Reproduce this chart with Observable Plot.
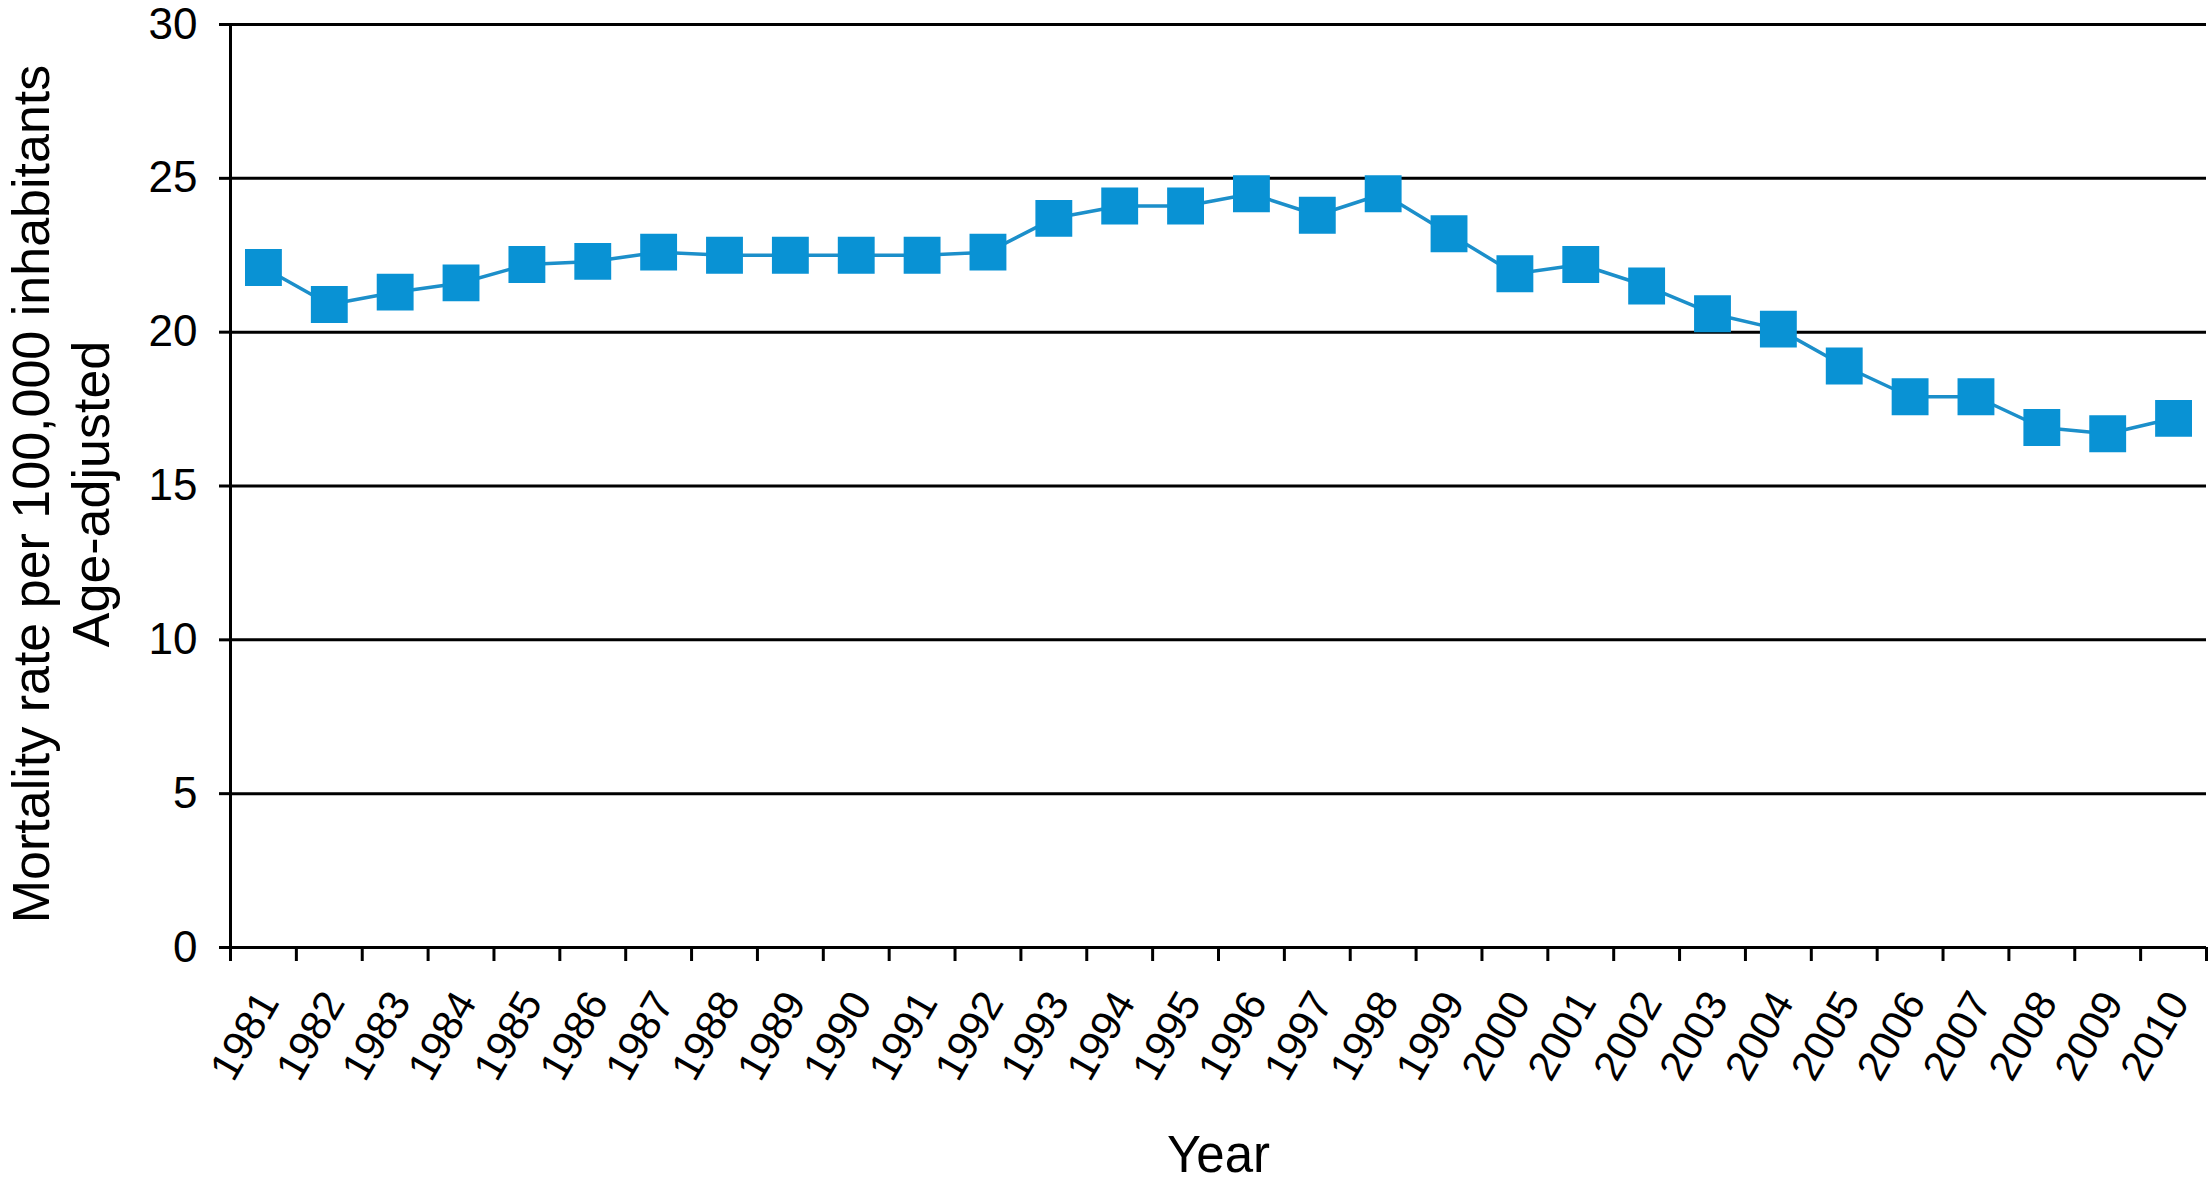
<!DOCTYPE html>
<html>
<head>
<meta charset="utf-8">
<script src="https://cdn.jsdelivr.net/npm/d3@7"></script>
<script src="https://cdn.jsdelivr.net/npm/@observablehq/plot@0.6"></script>
<style>
  html, body { margin: 0; padding: 0; background: #ffffff; }
  #chart svg { display: block; }
</style>
</head>
<body>
<div id="chart"></div>
<script>
const years = [1981, 1982, 1983, 1984, 1985, 1986, 1987, 1988, 1989, 1990,
               1991, 1992, 1993, 1994, 1995, 1996, 1997, 1998, 1999, 2000,
               2001, 2002, 2003, 2004, 2005, 2006, 2007, 2008, 2009, 2010];
const rates = [22.1, 20.9, 21.3, 21.6, 22.2, 22.3, 22.6, 22.5, 22.5, 22.5,
               22.5, 22.6, 23.7, 24.1, 24.1, 24.5, 23.8, 24.5, 23.2, 21.9,
               22.2, 21.5, 20.6, 20.1, 18.9, 17.9, 17.9, 16.9, 16.7, 17.2];
const yTicks = [0, 5, 10, 15, 20, 25, 30];
const xTitle = "Year";
const yTitleLines = ["Mortality rate per 100,000 inhabitants", "Age-adjusted"];

const data = years.map((year, i) => ({year, rate: rates[i]}));
// band edges between consecutive years (where the tick marks sit)
const edges = [years[0] - 0.5, ...years.map(y => y + 0.5)];

const font = "'Liberation Sans', Arial, Helvetica, sans-serif";
const lineColor = "#1c8fca";
const markColor = "#0992d4";

const chart = Plot.plot({
  width: 2209,
  height: 1183,
  marginLeft: 230,
  marginRight: 3,
  marginTop: 24,
  marginBottom: 236,
  style: {fontFamily: font, color: "#000", background: "#fff"},
  x: {domain: [edges[0], edges[edges.length - 1]], axis: null},
  y: {domain: [0, 30], axis: null},
  marks: [
    // horizontal grid lines
    Plot.ruleY(yTicks, {stroke: "#000", strokeWidth: 3}),
    // left axis line
    Plot.ruleX([edges[0]], {stroke: "#000", strokeWidth: 3}),
    // y axis ticks + labels
    Plot.axisY({ticks: yTicks, tickSize: 11, tickPadding: 22, fontSize: 44,
                strokeWidth: 3, stroke: "#000", fill: "#000", label: null}),
    // x axis tick marks at band edges
    Plot.axisX({ticks: edges, tickSize: 14, tickFormat: () => "", strokeWidth: 3,
                stroke: "#000", label: null}),
    // rotated year labels
    Plot.text(years, {x: d => d, frameAnchor: "bottom", text: d => String(d),
                      rotate: -60, textAnchor: "end", lineAnchor: "middle",
                      dx: 5, dy: 48, fontSize: 42, fill: "#000"}),
    // x title
    Plot.text([xTitle], {frameAnchor: "bottom", text: d => d, lineAnchor: "bottom",
                         dy: 224, fontSize: 51, fill: "#000"}),
    // y title (two lines)
    Plot.text([yTitleLines.join("\n")], {frameAnchor: "left", text: d => d,
                         rotate: -90, lineAnchor: "middle", textAnchor: "middle",
                         lineHeight: 1.15, dx: -171, dy: 8, fontSize: 52, fill: "#000"}),
    // series
    Plot.line(data, {x: "year", y: "rate", stroke: lineColor, strokeWidth: 3.5}),
    Plot.dot(data, {x: "year", y: "rate", symbol: "square", r: 20.8,
                    fill: markColor, stroke: null})
  ]
});
document.getElementById("chart").appendChild(chart);
</script>
</body>
</html>
